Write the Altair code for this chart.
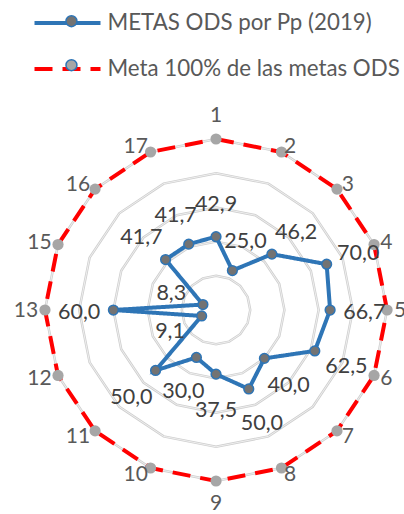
import altair as alt
import pandas as pd

# ---- data ----
categories = ["1", "2", "3", "4", "5", "6", "7", "8", "9", "10", "11", "12", "13", "15", "16", "17"]
metas_pp = [42.9, 25.0, 46.2, 70.0, 66.7, 62.5, 40.0, 50.0, 37.5, 30.0, 50.0, 9.1, 60.0, 8.3, 41.7, 41.7]
meta_100 = [100, 100, 100, 100, 100, 100, 100, 100, 100, 100, 100, 100, 100, 100, 100, 100]
ring_levels = [20, 40, 60, 80, 100]
series_names = ["METAS ODS por Pp (2019)", "Meta 100% de las metas ODS"]

N = len(categories)
FONT = "Lato"

rows = []
for i, (c, v) in enumerate(zip(categories, metas_pp)):
    rows.append({"series": series_names[0], "cat": c, "idx": i, "value": v})
for i, (c, v) in enumerate(zip(categories, meta_100)):
    rows.append({"series": series_names[1], "cat": c, "idx": i, "value": v})
df = pd.DataFrame(rows)
ring_df = pd.DataFrame([{"level": L, "idx": i} for L in ring_levels for i in range(N)])
cat_df = pd.DataFrame({"cat": categories, "idx": list(range(N))})

ANG = f"2*PI*datum.idx/{N}"

xs = alt.Scale(domain=[-126.3, 109.9], nice=False, zero=False)
ys = alt.Scale(domain=[-119.3, 181.3], nice=False, zero=False)
X = alt.X("x:Q", scale=xs, axis=None)
Y = alt.Y("y:Q", scale=ys, axis=None)


def polar(chart, rexpr):
    return chart.transform_calculate(
        x=f"({rexpr})*sin({ANG})", y=f"({rexpr})*cos({ANG})"
    )


# rings
rings_a = polar(alt.Chart(ring_df), "datum.level").mark_line(
    interpolate="linear-closed", color="#CFCFCF", strokeWidth=2.5
).encode(x=X, y=Y, detail="level:N", order="idx:Q")
rings_b = polar(alt.Chart(ring_df), "datum.level").mark_line(
    interpolate="linear-closed", color="#F6F6F6", strokeWidth=0.8
).encode(x=X, y=Y, detail="level:N", order="idx:Q")

line_legend = alt.Legend(
    title=None, orient="none", legendX=54.5, legendY=10, direction="vertical",
    symbolType="M-3,0H3", symbolSize=484, symbolStrokeWidth=4,
    labelFont=FONT, labelFontSize=22.3, labelColor="#595959", labelLimit=600,
    labelOffset=27, rowPadding=21, padding=0,
)
marker_legend = alt.Legend(
    title=None, orient="none", legendX=60.3, legendY=10, direction="vertical",
    symbolType="circle", symbolSize=120, symbolStrokeWidth=1.5,
    labelFont=FONT, labelFontSize=22.3, labelExpr="''", labelLimit=600,
    rowPadding=21, padding=0, zindex=2,
)

lines = polar(alt.Chart(df), "datum.value").mark_line(
    interpolate="linear-closed", strokeWidth=4
).encode(
    x=X, y=Y, order="idx:Q",
    stroke=alt.Stroke("series:N", scale=alt.Scale(domain=series_names, range=["#2E75B6", "#FF0000"]), legend=line_legend),
    strokeDash=alt.StrokeDash("series:N", scale=alt.Scale(domain=series_names, range=[[1, 0], [18, 10]]), legend=line_legend),
)

# marker layers use a copy of the series field so that their legend stays separate
fill_enc = alt.Fill("series_m:N", scale=alt.Scale(range=["#737373", "#A6A6A6"]), legend=marker_legend)
sop_enc = alt.StrokeOpacity("series_m:N", scale=alt.Scale(range=[1, 0]), legend=marker_legend)


def point_layer(name, size):
    return polar(
        alt.Chart(df).transform_filter(alt.datum.series == name), "datum.value"
    ).transform_calculate(series_m="datum.series").mark_point(
        filled=True, size=size, stroke="#2E75B6", strokeWidth=1.5, opacity=1
    ).encode(x=X, y=Y, fill=fill_enc, strokeOpacity=sop_enc)


points_target = point_layer(series_names[1], 125)
points_pp = point_layer(series_names[0], 95)

# data labels for the blue series
vlabels = polar(
    alt.Chart(df).transform_filter(alt.datum.series == series_names[0]), "datum.value + 20"
).transform_calculate(
    lab="replace(format(datum.value, '.1f'), '.', ',')"
).mark_text(font=FONT, fontSize=21.5, color="#404040", align="center", baseline="middle", dy=3).encode(
    x=X, y=Y, text="lab:N"
)

# category labels
def cat_layer(cond, align, r, dy):
    return polar(alt.Chart(cat_df).transform_filter(cond), r).mark_text(
        font=FONT, fontSize=21, color="#595959", align=align, baseline="middle", dy=dy
    ).encode(x=X, y=Y, text="cat:N")

half = N // 2
cat_right = cat_layer(f"datum.idx > 0 && datum.idx < {half}", "left", "104", 1)
cat_left = cat_layer(f"datum.idx > {half}", "right", "104", 1)
cat_top = cat_layer("datum.idx == 0", "center", "100", -23)
cat_bottom = cat_layer(f"datum.idx == {half}", "center", "100", 23)

chart = alt.layer(
    rings_a, rings_b, lines, points_target, points_pp, vlabels,
    cat_right, cat_left, cat_top, cat_bottom
).properties(
    width=404, height=514, autosize=alt.AutoSizeParams(type="none"), padding=0
).configure_view(stroke=None)

chart.save("out.html", embed_options={"renderer": "svg", "actions": False})
